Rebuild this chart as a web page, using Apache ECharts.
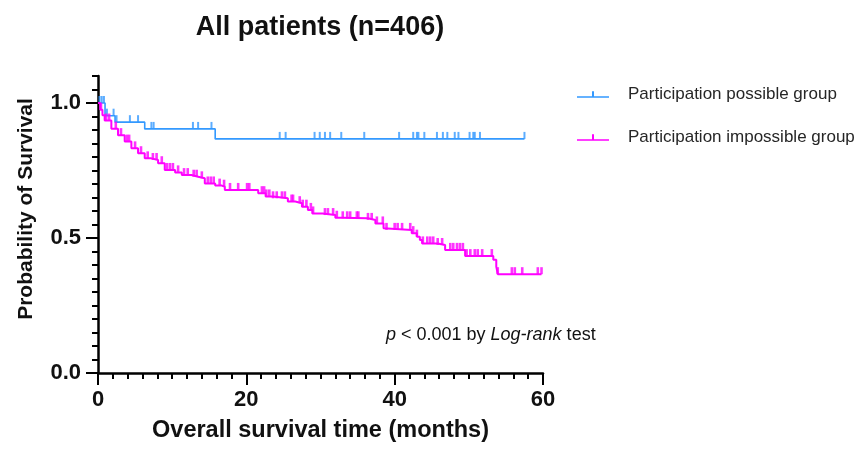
<!DOCTYPE html>
<html><head><meta charset="utf-8">
<script src="https://cdn.jsdelivr.net/npm/echarts@6/dist/echarts.min.js"></script>
<style>html,body{margin:0;padding:0;background:#fff}#c{width:859px;height:450px}</style>
</head><body><div id="c"></div>
<script>
const titleText = 'All patients (n=406)';
const xName = 'Overall survival time (months)';
const yName = 'Probability of Survival';
const seriesNames = ['Participation possible group', 'Participation impossible group'];
const xTickValues = [0, 20, 40, 60];
const yTickValues = [0, 0.5, 1.0];

// Participation possible group (Kaplan-Meier steps)
const possibleTimes = [0, 0.95, 2.3, 6.3, 15.8, 57.5];
const possibleSurv  = [1.0, 0.953, 0.929, 0.904, 0.867, 0.867];
const possibleCensor = [0.2, 0.5, 0.8, 1.2, 2.1, 2.5, 4.3, 5.4, 7.2, 7.5, 12.8, 13.5, 15.3, 24.5, 25.3, 29.2, 29.9, 30.6, 31.3, 32.8, 35.9, 40.6, 42.5, 43.0, 43.2, 44.0, 45.7, 46.5, 47.1, 48.1, 48.6, 50.1, 50.6, 50.8, 51.5, 57.5];

// Participation impossible group (Kaplan-Meier steps)
const impossibleTimes = [0, 0.3, 0.6, 0.9, 1.8, 2.7, 3.6, 4.5, 5.4, 6.3, 7.2, 8.1, 9.0, 10.4, 11.3, 12.6, 13.5, 14.4, 15.8, 16.7, 17.1, 21.6, 22.6, 23.6, 25.6, 26.6, 27.5, 28.3, 28.9, 30.3, 32.0, 32.9, 36.4, 37.4, 38.5, 38.7, 42.3, 43.0, 43.4, 43.7, 45.8, 46.8, 49.5, 53.3, 53.7, 53.9, 59.8];
const impossibleSurv  = [1.0, 0.975, 0.955, 0.935, 0.905, 0.881, 0.857, 0.832, 0.814, 0.795, 0.789, 0.777, 0.752, 0.743, 0.733, 0.727, 0.721, 0.702, 0.694, 0.690, 0.678, 0.666, 0.654, 0.647, 0.635, 0.629, 0.616, 0.604, 0.591, 0.585, 0.575, 0.573, 0.567, 0.554, 0.536, 0.530, 0.518, 0.505, 0.493, 0.480, 0.474, 0.456, 0.433, 0.419, 0.394, 0.366, 0.366];
const impossibleCensor = [0.4, 1.1, 1.5, 2.4, 3.1, 3.9, 4.2, 5.0, 5.8, 6.7, 7.4, 7.9, 8.6, 9.3, 9.7, 10.1, 10.8, 11.6, 12.1, 12.9, 13.3, 14.0, 14.8, 15.2, 15.6, 16.4, 17.0, 17.8, 18.9, 20.1, 20.4, 22.1, 22.4, 22.7, 23.1, 23.6, 24.1, 24.8, 25.2, 26.1, 26.3, 27.2, 27.6, 28.1, 28.7, 29.0, 30.6, 31.0, 31.7, 32.2, 33.0, 33.6, 34.0, 34.9, 35.1, 36.4, 36.9, 37.6, 38.4, 38.9, 40.0, 40.4, 41.0, 42.1, 42.5, 43.0, 43.8, 44.4, 44.8, 45.2, 45.8, 46.4, 47.5, 47.9, 48.4, 48.8, 49.2, 49.7, 50.2, 50.8, 51.2, 51.8, 53.1, 53.9, 55.8, 56.2, 57.2, 59.3, 59.8];

const colors = ['#3399ff', '#ff00ff'];
const FONT = 'Arial, "Liberation Sans", sans-serif';

function stepPairs(times, surv) { return times.map((t, i) => [t, surv[i]]); }
function censorPairs(censor, times, surv) {
  return censor.map(c => {
    let s = surv[0];
    for (let i = 0; i < times.length; i++) { if (times[i] <= c) s = surv[i]; }
    return [c, s];
  });
}

const chart = echarts.init(document.getElementById('c'), null, {renderer: 'canvas'});
const legendIcon = 'path://M0,5h32v1.5h-32z M15,0h2v5h-2z';

chart.setOption({
  animation: false,
  backgroundColor: '#fff',
  grid: {left: 98, right: 316, top: 76, bottom: 77, containLabel: false},
  legend: {
    data: seriesNames.map(n => ({name: n, icon: legendIcon})),
    orient: 'vertical', left: 572, top: 80,
    itemWidth: 32, itemHeight: 6.5, itemGap: 24,
    selectedMode: false,
    textStyle: {fontFamily: FONT, fontSize: 17, color: '#262626', lineHeight: 19, padding: [0, 0, 0, 14]}
  },
  xAxis: {
    type: 'value', min: 0, max: 60, interval: 20,
    name: xName, nameLocation: 'middle', nameGap: 46,
    nameTextStyle: {fontFamily: FONT, fontSize: 23.5, fontWeight: 'bold', color: '#111'},
    axisLine: {show: true, lineStyle: {color: '#000', width: 2.5}},
    axisTick: {show: true, length: 12, lineStyle: {color: '#000', width: 2}},
    minorTick: {show: true, splitNumber: 10, length: 6, lineStyle: {color: '#000', width: 2}},
    axisLabel: {fontFamily: FONT, fontSize: 22, fontWeight: 'bold', color: '#111', margin: 16},
    splitLine: {show: false}, minorSplitLine: {show: false}
  },
  yAxis: [{
    type: 'value', min: 0, max: 1.1, interval: 0.05,
    axisLine: {show: true, lineStyle: {color: '#000', width: 2.5}},
    axisTick: {show: true, length: 6, lineStyle: {color: '#000', width: 2}},
    axisLabel: {show: false},
    splitLine: {show: false}
  }, {
    type: 'value', min: 0, max: 1.1, position: 'left',
    axisLine: {show: false},
    axisTick: {show: true, customValues: yTickValues, length: 12, lineStyle: {color: '#000', width: 2}},
    axisLabel: {show: true, customValues: yTickValues, formatter: v => v.toFixed(1),
      fontFamily: FONT, fontSize: 22, fontWeight: 'bold', color: '#111', margin: 17},
    splitLine: {show: false}
  }],
  graphic: [
    {type: 'text', position: [320, 28], style: {text: titleText, fontFamily: FONT, fontSize: 27, fontWeight: 'bold', fill: '#111', align: 'center', verticalAlign: 'middle'}},
    {type: 'text', position: [26, 209], rotation: Math.PI / 2, style: {text: yName, fontFamily: FONT, fontSize: 21, fontWeight: 'bold', fill: '#111', align: 'center', verticalAlign: 'middle'}},
    {type: 'text', position: [386, 335], style: {
      text: '{i|p} < 0.001 by {i|Log-rank} test',
      fontFamily: FONT, fontSize: 18, fill: '#111', align: 'left', verticalAlign: 'middle',
      rich: {i: {fontFamily: FONT, fontSize: 18, fontStyle: 'italic', fill: '#111'}}
    }}
  ],
  series: [
    {
      name: seriesNames[0], type: 'line', step: 'end', yAxisIndex: 0,
      data: stepPairs(possibleTimes, possibleSurv),
      showSymbol: false, symbol: 'none', z: 3,
      itemStyle: {color: colors[0]}, lineStyle: {color: colors[0], width: 1.6}
    },
    {
      name: 'possible-censored', type: 'scatter', yAxisIndex: 0,
      data: censorPairs(possibleCensor, possibleTimes, possibleSurv),
      symbol: 'rect', symbolSize: [2, 7], symbolOffset: [0, -3.5], z: 3,
      itemStyle: {color: colors[0]}
    },
    {
      name: seriesNames[1], type: 'line', step: 'end', yAxisIndex: 0,
      data: stepPairs(impossibleTimes, impossibleSurv),
      showSymbol: false, symbol: 'none', z: 4,
      itemStyle: {color: colors[1]}, lineStyle: {color: colors[1], width: 2}
    },
    {
      name: 'impossible-censored', type: 'scatter', yAxisIndex: 0,
      data: censorPairs(impossibleCensor, impossibleTimes, impossibleSurv),
      symbol: 'rect', symbolSize: [2.6, 7], symbolOffset: [0, -3.5], z: 4,
      itemStyle: {color: colors[1]}
    }
  ]
});
</script></body></html>
